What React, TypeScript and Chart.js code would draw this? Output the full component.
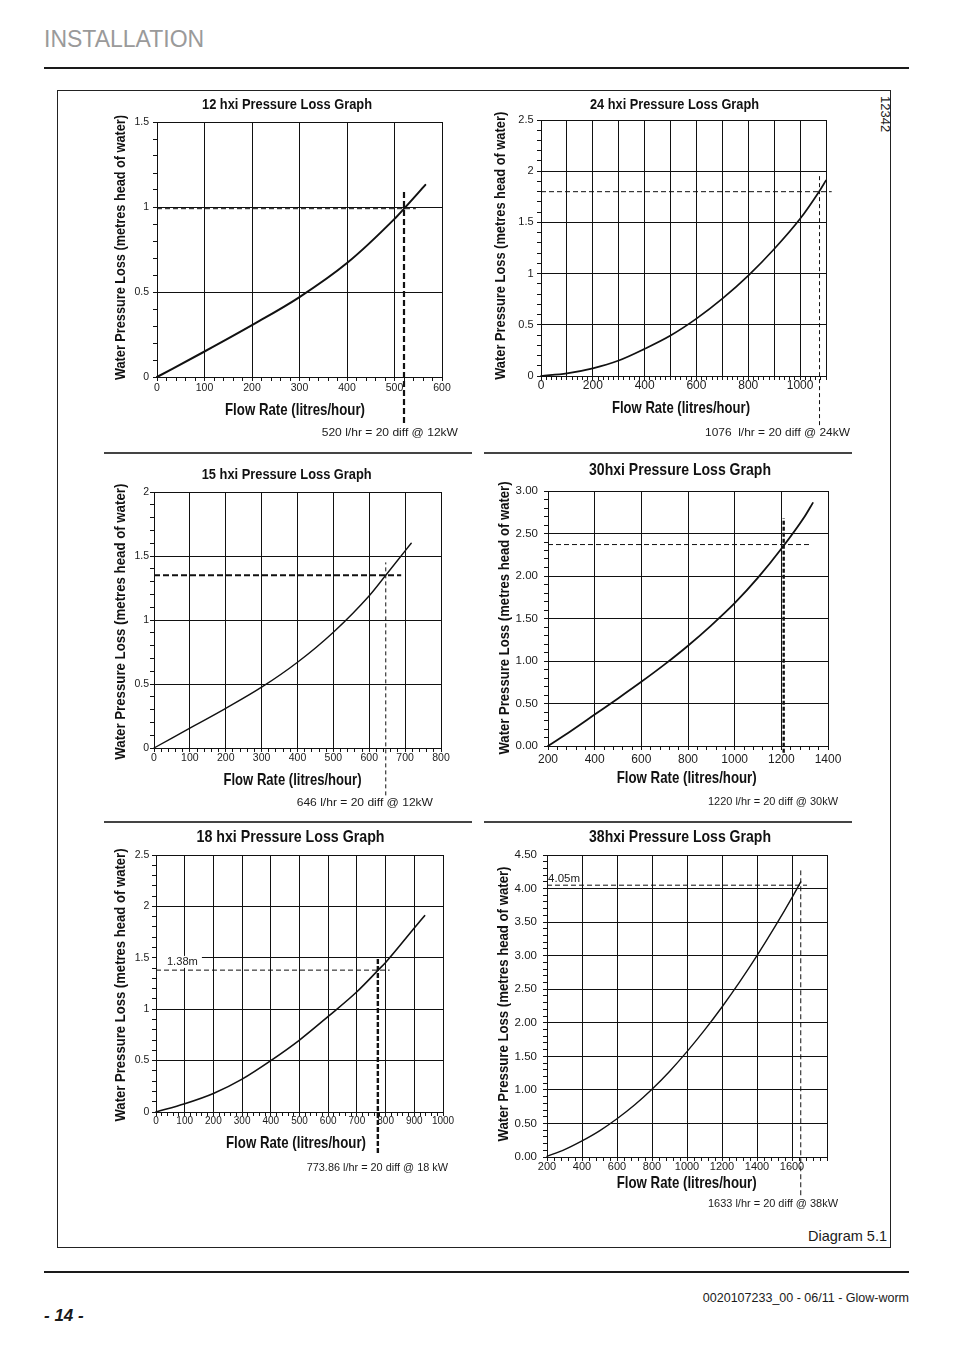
import React, { useEffect, useRef } from "react";
import { Chart, registerables } from "chart.js";

Chart.register(...registerables);

const FONT = '"Liberation Sans", Arial, Helvetica, sans-serif';

// ---------------- data ----------------
// 12 hxi
const c1Flow = [0, 100, 200, 300, 400, 500, 520, 565];
const c1Loss = [0, 0.15, 0.305, 0.47, 0.67, 0.93, 0.99, 1.13];
const c1XTickValues = [0, 100, 200, 300, 400, 500, 600];
const c1XTickLabels = ["0", "100", "200", "300", "400", "500", "600"];
const c1YTickValues = [0, 0.5, 1, 1.5];
const c1YTickLabels = ["0", "0.5", "1", "1.5"];
const c1HGuideFlow = [0, 545];
const c1HGuideLoss = 0.99;
const c1VGuideFlow = 520;
const c1VGuideLoss = [-0.27, 1.1];

// 24 hxi
const c2Flow = [0, 100, 200, 300, 400, 500, 600, 700, 800, 900, 1000, 1073, 1100];
const c2Loss = [0, 0.026, 0.075, 0.151, 0.265, 0.395, 0.56, 0.755, 0.98, 1.24, 1.535, 1.8, 1.91];
const c2XTickValues = [0, 200, 400, 600, 800, 1000];
const c2XTickLabels = ["0", "200", "400", "600", "800", "1000"];
const c2YTickValues = [0, 0.5, 1, 1.5, 2, 2.5];
const c2YTickLabels = ["0", "0.5", "1", "1.5", "2", "2.5"];
const c2HGuideFlow = [0, 1122];
const c2HGuideLoss = 1.8;
const c2VGuideFlow = 1075;
const c2VGuideLoss = [-0.48, 1.97];

// 15 hxi
const c3Flow = [0, 100, 200, 300, 400, 500, 600, 646, 700, 717];
const c3Loss = [0, 0.155, 0.31, 0.475, 0.67, 0.905, 1.19, 1.35, 1.54, 1.6];
const c3XTickValues = [0, 100, 200, 300, 400, 500, 600, 700, 800];
const c3XTickLabels = ["0", "100", "200", "300", "400", "500", "600", "700", "800"];
const c3YTickValues = [0, 0.5, 1, 1.5, 2];
const c3YTickLabels = ["0", "0.5", "1", "1.5", "2"];
const c3HGuideFlow = [0, 689];
const c3HGuideLoss = 1.35;
const c3VGuideFlow = 646;
const c3VGuideLoss = [-0.37, 1.45];

// 30 hxi
const c4Flow = [200, 300, 400, 500, 600, 700, 800, 900, 1000, 1100, 1200, 1300, 1335];
const c4Loss = [0, 0.18, 0.37, 0.56, 0.755, 0.96, 1.18, 1.42, 1.68, 1.98, 2.32, 2.7, 2.86];
const c4XTickValues = [200, 400, 600, 800, 1000, 1200, 1400];
const c4XTickLabels = ["200", "400", "600", "800", "1000", "1200", "1400"];
const c4YTickValues = [0, 0.5, 1, 1.5, 2, 2.5, 3];
const c4YTickLabels = ["0.00", "0.50", "1.00", "1.50", "2.00", "2.50", "3.00"];
const c4HGuideFlow = [200, 1319];
const c4HGuideLoss = 2.37;
const c4VGuideFlow = 1210;
const c4VGuideLoss = [-0.08, 2.68];

// 18 hxi
const c5Flow = [0, 100, 200, 300, 400, 500, 600, 700, 774, 800, 900, 936];
const c5Loss = [0, 0.08, 0.18, 0.32, 0.5, 0.7, 0.93, 1.17, 1.38, 1.455, 1.79, 1.91];
const c5XTickValues = [0, 100, 200, 300, 400, 500, 600, 700, 800, 900, 1000];
const c5XTickLabels = ["0", "100", "200", "300", "400", "500", "600", "700", "800", "900", "1000"];
const c5YTickValues = [0, 0.5, 1, 1.5, 2, 2.5];
const c5YTickLabels = ["0", "0.5", "1", "1.5", "2", "2.5"];
const c5HGuideFlow = [0, 814];
const c5HGuideLoss = 1.38;
const c5VGuideFlow = 773;
const c5VGuideLoss = [-0.4, 1.5];
const c5MarkFlow = 38;
const c5MarkLoss = 1.46;

// 38 hxi
const c6Flow = [200, 300, 400, 500, 600, 700, 800, 900, 1000, 1100, 1200, 1300, 1400, 1500, 1600, 1650];
const c6Loss = [0.01, 0.11, 0.24, 0.39, 0.57, 0.775, 1.01, 1.275, 1.57, 1.89, 2.235, 2.605, 3.0, 3.42, 3.865, 4.1];
const c6XTickValues = [200, 400, 600, 800, 1000, 1200, 1400, 1600];
const c6XTickLabels = ["200", "400", "600", "800", "1000", "1200", "1400", "1600"];
const c6YTickValues = [0, 0.5, 1, 1.5, 2, 2.5, 3, 3.5, 4, 4.5];
const c6YTickLabels = ["0.00", "0.50", "1.00", "1.50", "2.00", "2.50", "3.00", "3.50", "4.00", "4.50"];
const c6HGuideFlow = [200, 1686];
const c6HGuideLoss = 4.05;
const c6VGuideFlow = 1650;
const c6VGuideLoss = [-0.57, 4.27];
const c6MarkFlow = 206;
const c6MarkLoss = 4.14;

const Y_TITLE = "Water Pressure Loss (metres head of water)";
const X_TITLE = "Flow Rate (litres/hour)";

// ---------------- chart specs (layout + styles) ----------------
const specs: any[] = [
  {
    id: "c1",
    canvas: { x: 100, y: 92, w: 376, h: 354 },
    plot: { l: 157, t: 122, r: 442, b: 377 },
    x: { min: 0, max: 600, minor: 20, grid: 100, vals: c1XTickValues, text: c1XTickLabels, font: 10.5, pad: 0.7 },
    y: { min: 0, max: 1.5, minor: 0.1, grid: 0.5, vals: c1YTickValues, text: c1YTickLabels, font: 10.5, pad: 4 },
    flow: c1Flow, loss: c1Loss, curveW: 2,
    h: { flow: c1HGuideFlow, loss: c1HGuideLoss, w: 1, dash: [5, 3] },
    v: { flow: c1VGuideFlow, loss: c1VGuideLoss, w: 2.2, dash: [6, 3] },
    title: { text: "12 hxi Pressure Loss Graph", x: 287, y: 105, w: 170, size: 14.5 },
    yTitle: { x: 121, y: 247.5, w: 265, size: 15 },
    xTitle: { x: 295, y: 410, w: 140, size: 16.5 },
    note: { text: "520 l/hr = 20 diff @ 12kW", x1: 321.7, x2: 458, y: 433, size: 11.5 },
  },
  {
    id: "c2",
    canvas: { x: 480, y: 92, w: 380, h: 354 },
    plot: { l: 541, t: 120, r: 826, b: 376 },
    x: { min: 0, max: 1100, minor: 20, grid: 100, vals: c2XTickValues, text: c2XTickLabels, font: 12, pad: -1.5 },
    y: { min: 0, max: 2.5, minor: 0.1, grid: 0.5, vals: c2YTickValues, text: c2YTickLabels, font: 11, pad: 3.4 },
    flow: c2Flow, loss: c2Loss, curveW: 1.7,
    h: { flow: c2HGuideFlow, loss: c2HGuideLoss, w: 1, dash: [5, 3] },
    v: { flow: c2VGuideFlow, loss: c2VGuideLoss, w: 1, dash: [4, 3] },
    title: { text: "24 hxi Pressure Loss Graph", x: 674.5, y: 105, w: 169, size: 14.5 },
    yTitle: { x: 500.7, y: 245.8, w: 268, size: 15 },
    xTitle: { x: 681, y: 408.3, w: 138, size: 16.5 },
    note: { text: "1076  l/hr = 20 diff @ 24kW", x1: 705, x2: 850, y: 433, size: 11.5 },
  },
  {
    id: "c3",
    canvas: { x: 100, y: 456, w: 376, h: 362 },
    plot: { l: 154, t: 492, r: 441, b: 748 },
    x: { min: 0, max: 800, minor: 20, grid: 100, vals: c3XTickValues, text: c3XTickLabels, font: 10.5, pad: 0 },
    y: { min: 0, max: 2, minor: 0.1, grid: 0.5, vals: c3YTickValues, text: c3YTickLabels, font: 10.5, pad: 1 },
    flow: c3Flow, loss: c3Loss, curveW: 1.4,
    h: { flow: c3HGuideFlow, loss: c3HGuideLoss, w: 2, dash: [6, 3] },
    v: { flow: c3VGuideFlow, loss: c3VGuideLoss, w: 1, dash: [4, 3] },
    title: { text: "15 hxi Pressure Loss Graph", x: 286.7, y: 475, w: 170, size: 14.5 },
    yTitle: { x: 120.7, y: 621.7, w: 276, size: 15 },
    xTitle: { x: 292.5, y: 780, w: 138, size: 16.5 },
    note: { text: "646 l/hr = 20 diff @ 12kW", x1: 296.7, x2: 433, y: 802.7, size: 11.5 },
  },
  {
    id: "c4",
    canvas: { x: 480, y: 456, w: 380, h: 362 },
    plot: { l: 548, t: 491, r: 828, b: 746 },
    x: { min: 200, max: 1400, minor: 40, grid: 200, vals: c4XTickValues, text: c4XTickLabels, font: 12, pad: 2.8 },
    y: { min: 0, max: 3, minor: 0.1, grid: 0.5, vals: c4YTickValues, text: c4YTickLabels, font: 11.5, pad: 6 },
    flow: c4Flow, loss: c4Loss, curveW: 1.8,
    h: { flow: c4HGuideFlow, loss: c4HGuideLoss, w: 1, dash: [5, 3] },
    v: { flow: c4VGuideFlow, loss: c4VGuideLoss, w: 2.4, dash: [4, 2] },
    title: { text: "30hxi Pressure Loss Graph", x: 680, y: 470, w: 182, size: 16.5 },
    yTitle: { x: 505, y: 618, w: 273, size: 15.5 },
    xTitle: { x: 686.7, y: 778.3, w: 140, size: 16.5 },
    note: { text: "1220 l/hr = 20 diff @ 30kW", x1: 708, x2: 838, y: 802, size: 11.5 },
  },
  {
    id: "c5",
    canvas: { x: 100, y: 826, w: 376, h: 389 },
    plot: { l: 156, t: 855, r: 443, b: 1112 },
    x: { min: 0, max: 1000, minor: 20, grid: 100, vals: c5XTickValues, text: c5XTickLabels, font: 10, pad: -0.7 },
    y: { min: 0, max: 2.5, minor: 0.1, grid: 0.5, vals: c5YTickValues, text: c5YTickLabels, font: 10.5, pad: 2.7 },
    flow: c5Flow, loss: c5Loss, curveW: 1.6,
    h: { flow: c5HGuideFlow, loss: c5HGuideLoss, w: 1, dash: [5, 3] },
    v: { flow: c5VGuideFlow, loss: c5VGuideLoss, w: 2.4, dash: [5, 2] },
    mark: { text: "1.38m", flow: c5MarkFlow, loss: c5MarkLoss, w: 31, size: 11, box: true },
    title: { text: "18 hxi Pressure Loss Graph", x: 290.5, y: 837.7, w: 188, size: 16.5 },
    yTitle: { x: 120.7, y: 985, w: 273, size: 15.5 },
    xTitle: { x: 296, y: 1143.3, w: 140, size: 16.5 },
    note: { text: "773.86 l/hr = 20 diff @ 18 kW", x1: 306.7, x2: 448, y: 1168, size: 11.5 },
  },
  {
    id: "c6",
    canvas: { x: 480, y: 826, w: 380, h: 389 },
    plot: { l: 547, t: 855, r: 827, b: 1157 },
    x: { min: 200, max: 1800, minor: 40, grid: 200, vals: c6XTickValues, text: c6XTickLabels, font: 11, pad: -0.6 },
    y: { min: 0, max: 4.5, minor: 0.1, grid: 0.5, vals: c6YTickValues, text: c6YTickLabels, font: 11.5, pad: 6 },
    flow: c6Flow, loss: c6Loss, curveW: 1.4,
    h: { flow: c6HGuideFlow, loss: c6HGuideLoss, w: 1, dash: [5, 3] },
    v: { flow: c6VGuideFlow, loss: c6VGuideLoss, w: 1, dash: [5, 3] },
    mark: { text: "4.05m", flow: c6MarkFlow, loss: c6MarkLoss, w: 32, size: 11, box: false },
    title: { text: "38hxi Pressure Loss Graph", x: 680, y: 837.7, w: 182, size: 16.5 },
    yTitle: { x: 503.3, y: 1004, w: 275, size: 15.5 },
    xTitle: { x: 686.7, y: 1183.3, w: 140, size: 16.5 },
    note: { text: "1633 l/hr = 20 diff @ 38kW", x1: 708, x2: 838, y: 1204, size: 11.5 },
  },
];

// ---------------- helpers ----------------
function near(a: number, b: number) {
  return Math.abs(a - b) < 1e-6;
}
function onGrid(v: number, min: number, step: number) {
  const k = (v - min) / step;
  return Math.abs(k - Math.round(k)) < 1e-6;
}

function drawFit(ctx: any, text: string, cx: number, cy: number, w: number, font: string, rot: number, color = "#111") {
  ctx.save();
  ctx.font = font;
  ctx.fillStyle = color;
  ctx.textAlign = "center";
  ctx.textBaseline = "middle";
  const m = ctx.measureText(text).width || 1;
  ctx.translate(cx, cy);
  if (rot) ctx.rotate(rot);
  ctx.scale(w / m, 1);
  ctx.fillText(text, 0, 0);
  ctx.restore();
}

function axisOptions(a: any, horizontal: boolean, size: number) {
  return {
    type: "linear",
    min: a.min,
    max: a.max,
    afterFit: (s: any) => {
      if (horizontal) s.height = size;
      else s.width = size;
    },
    border: { display: true, color: "#111", width: 1 },
    grid: {
      color: (c: any) => (c.tick && onGrid(c.tick.value, a.min, a.grid) ? "#111" : "rgba(0,0,0,0)"),
      tickColor: "#111",
      tickLength: 4,
      lineWidth: 1,
      drawTicks: true,
      drawOnChartArea: true,
    },
    ticks: {
      stepSize: a.minor,
      autoSkip: false,
      maxRotation: 0,
      minRotation: 0,
      padding: a.pad,
      color: "#1a1a1a",
      font: { family: FONT, size: a.font },
      callback: (v: any) => {
        const i = a.vals.findIndex((t: number) => near(t, Number(v)));
        return i >= 0 ? a.text[i] : "";
      },
    },
  };
}

function textPlugin(spec: any) {
  return {
    id: "pageText",
    beforeDatasetsDraw(chart: any) {
      const mk = spec.mark;
      if (!mk) return;
      const ctx = chart.ctx;
      const px = chart.scales.x.getPixelForValue(mk.flow);
      const py = chart.scales.y.getPixelForValue(mk.loss);
      if (mk.box) {
        ctx.save();
        ctx.fillStyle = "#ffffff";
        const left = chart.chartArea.left + 1;
        ctx.fillRect(left, py - 6, px + mk.w + 4 - left, 12);
        ctx.restore();
      }
      drawFit(ctx, mk.text, px + mk.w / 2, py, mk.w, `${mk.size}px ${FONT}`, 0, "#222");
    },
    afterDraw(chart: any) {
      const ctx = chart.ctx;
      const ox = spec.canvas.x;
      const oy = spec.canvas.y;
      const t = spec.title;
      drawFit(ctx, t.text, t.x - ox, t.y - oy, t.w, `bold ${t.size}px ${FONT}`, 0);
      const yt = spec.yTitle;
      drawFit(ctx, Y_TITLE, yt.x - ox, yt.y - oy, yt.w, `bold ${yt.size}px ${FONT}`, -Math.PI / 2);
      const xt = spec.xTitle;
      drawFit(ctx, X_TITLE, xt.x - ox, xt.y - oy, xt.w, `bold ${xt.size}px ${FONT}`, 0);
      const n = spec.note;
      drawFit(ctx, n.text, (n.x1 + n.x2) / 2 - ox, n.y - oy, n.x2 - n.x1, `${n.size}px ${FONT}`, 0, "#1a1a1a");
    },
  };
}

function buildConfig(spec: any) {
  const padL = 4;
  const xH = 24;
  const yW = spec.plot.l - spec.canvas.x - padL;
  const padT = spec.plot.t - spec.canvas.y;
  const padR = spec.canvas.x + spec.canvas.w - spec.plot.r;
  const padB = spec.canvas.y + spec.canvas.h - spec.plot.b - xH;
  const curve = spec.flow.map((x: number, i: number) => ({ x, y: spec.loss[i] }));
  const hLine = [
    { x: spec.h.flow[0], y: spec.h.loss },
    { x: spec.h.flow[1], y: spec.h.loss },
  ];
  const vLine = [
    { x: spec.v.flow, y: spec.v.loss[0] },
    { x: spec.v.flow, y: spec.v.loss[1] },
  ];
  return {
    type: "line",
    data: {
      datasets: [
        {
          data: hLine,
          borderColor: "#111",
          borderWidth: spec.h.w,
          borderDash: spec.h.dash,
          pointRadius: 0,
          tension: 0,
          fill: false,
          clip: false,
        },
        {
          data: vLine,
          borderColor: "#111",
          borderWidth: spec.v.w,
          borderDash: spec.v.dash,
          pointRadius: 0,
          tension: 0,
          fill: false,
          clip: false,
        },
        {
          data: curve,
          borderColor: "#111",
          borderWidth: spec.curveW,
          borderCapStyle: "round",
          borderJoinStyle: "round",
          pointRadius: 0,
          cubicInterpolationMode: "monotone",
          fill: false,
          clip: false,
        },
      ],
    },
    options: {
      responsive: false,
      animation: false,
      devicePixelRatio: 1,
      events: [],
      layout: { padding: { left: padL, top: padT, right: padR, bottom: padB } },
      plugins: {
        legend: { display: false },
        tooltip: { enabled: false },
        title: { display: false },
      },
      scales: {
        x: axisOptions(spec.x, true, xH),
        y: axisOptions(spec.y, false, yW),
      },
    },
    plugins: [textPlugin(spec)],
  };
}

function PressureChart({ spec }: { spec: any }) {
  const ref = useRef<HTMLCanvasElement | null>(null);
  useEffect(() => {
    if (!ref.current) return;
    const chart = new Chart(ref.current, buildConfig(spec) as any);
    return () => chart.destroy();
  }, [spec]);
  return (
    <canvas
      ref={ref}
      width={spec.canvas.w}
      height={spec.canvas.h}
      style={{
        position: "absolute",
        left: spec.canvas.x,
        top: spec.canvas.y,
        width: spec.canvas.w,
        height: spec.canvas.h,
      }}
    />
  );
}

const abs = (s: any) => ({ position: "absolute" as const, ...s });

export default function App() {
  return (
    <div style={abs({ left: 0, top: 0, width: 954, height: 1350, background: "#fff", fontFamily: FONT, color: "#1a1a1a" })}>
      <div style={abs({ left: 44, top: 28, fontSize: 23, lineHeight: "23px", color: "#9a9a9a", whiteSpace: "nowrap" })}>
        INSTALLATION
      </div>
      <div style={abs({ left: 44, top: 67, width: 865, height: 2, background: "#1a1a1a" })} />
      <div
        style={abs({
          left: 57,
          top: 90,
          width: 834,
          height: 1158,
          border: "1px solid #222",
          boxSizing: "border-box",
        })}
      />
      <div style={abs({ left: 104, top: 452, width: 368, height: 2, background: "#444" })} />
      <div style={abs({ left: 484, top: 452, width: 368, height: 2, background: "#444" })} />
      <div style={abs({ left: 104, top: 821, width: 368, height: 2, background: "#444" })} />
      <div style={abs({ left: 484, top: 821, width: 368, height: 2, background: "#444" })} />
      {specs.map((s) => (
        <PressureChart key={s.id} spec={s} />
      ))}
      <div
        style={abs({
          left: 878,
          top: 96,
          fontSize: 13,
          lineHeight: "14px",
          writingMode: "vertical-rl",
          whiteSpace: "nowrap",
        })}
      >
        12342
      </div>
      <div style={abs({ right: 67, top: 1228, fontSize: 14.5, lineHeight: "16px", whiteSpace: "nowrap" })}>
        Diagram 5.1
      </div>
      <div style={abs({ left: 44, top: 1271, width: 865, height: 2, background: "#1a1a1a" })} />
      <div style={abs({ right: 45, top: 1291, fontSize: 12.5, lineHeight: "14px", whiteSpace: "nowrap" })}>
        0020107233_00 - 06/11 - Glow-worm
      </div>
      <div
        style={abs({
          left: 44,
          top: 1306,
          fontSize: 17,
          lineHeight: "20px",
          fontWeight: "bold",
          fontStyle: "italic",
          whiteSpace: "nowrap",
        })}
      >
        - 14 -
      </div>
    </div>
  );
}
